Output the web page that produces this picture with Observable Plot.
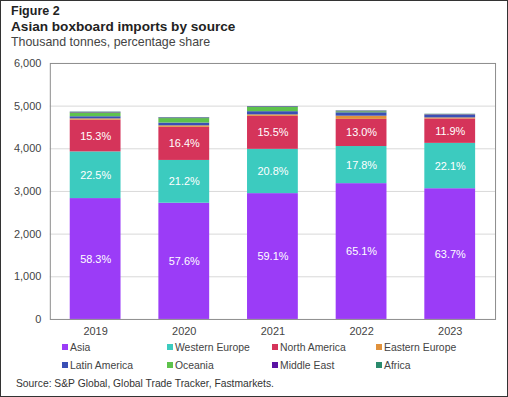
<!DOCTYPE html>
<html>
<head>
<meta charset="utf-8">
<script src="https://cdn.jsdelivr.net/npm/d3@7"></script>
<script src="https://cdn.jsdelivr.net/npm/@observablehq/plot@0.6"></script>
<style>
  html, body { margin: 0; padding: 0; background: #fff; }
  #wrap { position: relative; width: 508px; height: 397px; box-sizing: border-box; border: 1px solid #333; overflow: hidden; font-family: "Liberation Sans", Arial, sans-serif; }
  .fig { position: absolute; left: 10px; top: 3px; font-size: 12.5px; font-weight: bold; color: #222; }
  .title { position: absolute; left: 10px; top: 18px; font-size: 13.6px; font-weight: bold; color: #222; }
  .sub { position: absolute; left: 10px; top: 34px; font-size: 12.4px; color: #444; }
  #chart { position: absolute; left: 0; top: 52px; }
  .leg { position: absolute; font-size: 10.4px; color: #444; white-space: nowrap; }
  .leg span.sw { display: inline-block; width: 6px; height: 6px; margin-right: 2px; vertical-align: 1px; }
  .src { position: absolute; left: 15px; top: 377px; font-size: 10.3px; color: #333; }
</style>
</head>
<body>
<div id="wrap">
  <div class="fig">Figure 2</div>
  <div class="title">Asian boxboard imports by source</div>
  <div class="sub">Thousand tonnes, percentage share</div>
  <div id="chart"></div>
  <div id="legend"></div>
  <div class="src">Source: S&amp;P Global, Global Trade Tracker, Fastmarkets.</div>
</div>
<script>
const years = ["2019", "2020", "2021", "2022", "2023"];
const sources = ["Asia", "Western Europe", "North America", "Eastern Europe", "Latin America", "Oceania", "Middle East", "Africa"];
const colors = ["#9b3cf7", "#3ccbbf", "#d5345a", "#e0913c", "#3a4fb5", "#5ec24c", "#5a12a3", "#2a8a6c"];

const asia          = [2833, 2724, 2949, 3183, 3064];
const westernEurope = [1094, 1003, 1038, 870, 1063];
const northAmerica  = [744, 776, 773, 636, 572];
const easternEurope = [30, 35, 35, 75, 25];
const latinAmerica  = [50, 65, 75, 80, 60];
const oceania       = [90, 105, 100, 25, 10];
const middleEast    = [12, 12, 12, 12, 10];
const africa        = [8, 10, 8, 8, 6];

const asiaShare = ["58.3%", "57.6%", "59.1%", "65.1%", "63.7%"];
const weShare   = ["22.5%", "21.2%", "20.8%", "17.8%", "22.1%"];
const naShare   = ["15.3%", "16.4%", "15.5%", "13.0%", "11.9%"];

const yTicks = [0, 1000, 2000, 3000, 4000, 5000, 6000];

const series = [asia, westernEurope, northAmerica, easternEurope, latinAmerica, oceania, middleEast, africa];
const shares = [asiaShare, weShare, naShare];

const data = [];
sources.forEach((s, si) => {
  years.forEach((y, yi) => {
    data.push({year: y, source: s, value: series[si][yi], label: shares[si] ? shares[si][yi] : null});
  });
});

const chart = Plot.plot({
  width: 508,
  height: 288,
  marginLeft: 49,
  marginRight: 12,
  marginTop: 10,
  marginBottom: 21,
  style: {fontFamily: "Liberation Sans, Arial, sans-serif", fontSize: "11px", color: "#444", background: "transparent"},
  x: {domain: years, paddingInner: 0.43, paddingOuter: 0.215, label: null, tickSize: 0, tickPadding: 8},
  y: {domain: [0, 6000], ticks: yTicks, tickFormat: d3.format(","), label: null, tickSize: 0, tickPadding: 9},
  color: {domain: sources, range: colors},
  marks: [
    Plot.gridY(yTicks.slice(1, -1), {stroke: "#d9d9d9", strokeOpacity: 1}),
    Plot.barY(data, {x: "year", y: "value", fill: "source", z: "source"}),
    Plot.text(data, Plot.stackY({x: "year", y: "value", z: "source", text: "label", fill: "white", fontSize: 11, fontWeight: "normal"})),
    Plot.frame({stroke: "#8c8c8c"})
  ]
});
document.getElementById("chart").appendChild(chart);

const legend = document.getElementById("legend");
const colX = [61, 166, 271, 375];
const rowY = [341, 359];
sources.forEach((s, i) => {
  const d = document.createElement("div");
  d.className = "leg";
  d.style.left = colX[i % 4] + "px";
  d.style.top = rowY[Math.floor(i / 4)] + "px";
  d.innerHTML = `<span class="sw" style="background:${colors[i]}"></span>${s}`;
  legend.appendChild(d);
});
</script>
</body>
</html>
